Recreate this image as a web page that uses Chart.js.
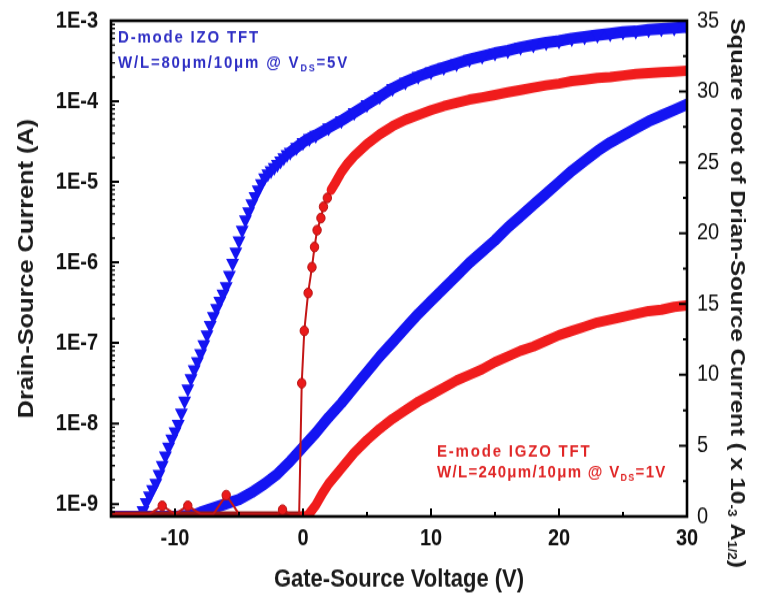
<!DOCTYPE html>
<html>
<head>
<meta charset="utf-8">
<title>IZO / IGZO TFT transfer curves</title>
<script src="https://cdn.jsdelivr.net/npm/chart.js@4.4.0/dist/chart.umd.min.js"></script>
<style>
  html, body { margin: 0; padding: 0; background: #fff; }
</style>
</head>
<body>
<!-- drawn 757x519, shown a little taller like the printed figure -->
<canvas id="tft" width="757" height="519" style="display:block;width:757px;height:597px"></canvas>
<script>
// ---- measured data ----
// D-mode IZO TFT, Ids (A) vs Vgs (V), VDS = 5V
const izoV = [-12.5, -12.25, -12, -11.75, -11.5, -11.25, -11, -10.75, -10.5, -10.25, -10, -9.75,
  -9.5, -9.25, -9, -8.75, -8.5, -8.25, -8, -7.75, -7.5, -7.25, -7, -6.75, -6.5, -6.25, -6, -5.75,
  -5.5, -5.25, -5, -4.75, -4.5, -4.25, -4, -3.75, -3.5, -3.25, -3, -2.75, -2.5, -2.25, -2, -1.75,
  -1.5, -1.25, -1, -0.5, 0, 0.5, 1, 2, 3, 4, 5, 6, 7, 8, 9, 10, 11, 12, 13, 14, 15, 16, 17, 18,
  19, 20, 21, 22, 23, 24, 25, 26, 27, 28, 29, 30];
const izoI = [8.3e-10, 1.05e-9, 1.26e-9, 1.51e-9, 1.82e-9, 2.34e-9, 3.02e-9, 3.98e-9, 5.13e-9,
  6.46e-9, 7.94e-9, 9.77e-9, 1.35e-8, 1.91e-8, 2.69e-8, 3.63e-8, 4.68e-8, 5.89e-8, 7.41e-8,
  9.55e-8, 1.26e-7, 1.66e-7, 2.14e-7, 2.69e-7, 3.31e-7, 4.07e-7, 5.01e-7, 6.92e-7, 9.77e-7,
  1.35e-6, 1.86e-6, 2.51e-6, 3.39e-6, 4.27e-6, 5.37e-6, 6.61e-6, 7.94e-6, 9.55e-6, 1.12e-5,
  1.26e-5, 1.38e-5, 1.51e-5, 1.66e-5, 1.82e-5, 2.0e-5, 2.19e-5, 2.34e-5, 2.69e-5, 3.09e-5,
  3.47e-5, 3.80e-5, 4.68e-5, 5.75e-5, 7.24e-5, 9.12e-5, 1.15e-4, 1.45e-4, 1.74e-4, 2.04e-4,
  2.34e-4, 2.63e-4, 2.95e-4, 3.31e-4, 3.63e-4, 3.98e-4, 4.27e-4, 4.68e-4, 5.01e-4, 5.37e-4,
  5.62e-4, 6.03e-4, 6.31e-4, 6.61e-4, 6.92e-4, 7.24e-4, 7.41e-4, 7.76e-4, 7.94e-4, 8.13e-4, 8.32e-4];

// D-mode IZO, sqrt(Ids) in 1e-3 A^1/2
const izoSqrtV = [-15, -12, -10, -8.5, -8, -7, -6, -5, -4, -3, -2, -1, 0, 1, 2, 3, 4, 5, 6, 7, 8, 9,
  10, 11, 12, 13, 14, 15, 16, 17, 18, 19, 20, 21, 22, 23, 24, 25, 26, 27, 28, 29, 30];
const izoSqrt = [0, 0, 0, 0.1, 0.3, 0.6, 0.9, 1.2, 1.7, 2.3, 3.0, 3.9, 4.9, 5.9, 7.0, 8.0, 9.1, 10.2,
  11.3, 12.3, 13.3, 14.3, 15.2, 16.1, 17.0, 17.9, 18.7, 19.5, 20.4, 21.2, 22.0, 22.8, 23.6, 24.4,
  25.1, 25.8, 26.4, 26.9, 27.4, 27.9, 28.3, 28.7, 29.1];

// E-mode IGZO TFT, Ids (A) vs Vgs (V), VDS = 1V
const igzoV = [-15, -14, -13, -12, -11, -10, -9, -8, -7, -6, -5, -4, -3, -2, -1.6, -1, -0.3,
  -0.1, 0.1, 0.4, 0.7, 0.9, 1.1, 1.4, 1.6, 1.9, 2.2, 2.5, 3, 3.5, 4, 5, 6, 7, 8, 9, 10, 11, 12,
  13, 14, 15, 16, 17, 18, 19, 20, 21, 22, 23, 24, 25, 26, 27, 28, 29, 30];
const igzoI = [7.5e-10, 7.5e-10, 7.5e-10, 7.5e-10, 9.5e-10, 7.5e-10, 9.5e-10, 7.5e-10, 7.5e-10,
  1.29e-9, 7.5e-10, 7.5e-10, 7.5e-10, 7.5e-10, 8.5e-10, 7.5e-10, 7.5e-10,
  3.16e-8, 1.41e-7, 4.17e-7, 8.71e-7, 1.55e-6, 2.51e-6, 3.55e-6, 4.9e-6, 6.31e-6, 7.94e-6,
  9.55e-6, 1.32e-5, 1.70e-5, 2.09e-5, 2.95e-5, 3.89e-5, 4.9e-5, 5.89e-5, 6.76e-5, 7.76e-5,
  8.71e-5, 9.55e-5, 1.05e-4, 1.12e-4, 1.20e-4, 1.29e-4, 1.38e-4, 1.48e-4, 1.58e-4, 1.66e-4,
  1.78e-4, 1.86e-4, 1.95e-4, 2.0e-4, 2.09e-4, 2.19e-4, 2.24e-4, 2.29e-4, 2.34e-4, 2.40e-4];

// E-mode IGZO, sqrt(Ids) in 1e-3 A^1/2
const igzoSqrtV = [-15, -10, -5, 0, 0.3, 0.5, 1, 1.5, 2, 3, 4, 5, 6, 7, 8, 9, 10, 11, 12, 13, 14,
  15, 16, 17, 18, 19, 20, 21, 22, 23, 24, 25, 26, 27, 28, 29, 30];
const igzoSqrt = [0, 0, 0, 0, 0, 0.2, 0.8, 1.6, 2.3, 3.4, 4.5, 5.4, 6.2, 6.9, 7.5, 8.1, 8.6, 9.1,
  9.6, 10.0, 10.4, 10.9, 11.3, 11.7, 12.0, 12.4, 12.8, 13.1, 13.4, 13.7, 13.9, 14.1, 14.3, 14.5,
  14.6, 14.8, 14.9];

// ---- axes ----
const xTicks = [-10, 0, 10, 20, 30];
const xMinorTicks = [-5, 5, 15, 25];
const yTicks = [1e-9, 1e-8, 1e-7, 1e-6, 1e-5, 1e-4, 1e-3];
const y2Ticks = [0, 5, 10, 15, 20, 25, 30, 35];
const y2MinorTicks = [2.5, 7.5, 12.5, 17.5, 22.5, 27.5, 32.5];

const FONT = '"Liberation Sans", Arial, sans-serif';
const BLUE = '#1414f2';
const RED = '#f01c1c';

const pts = (xs, ys) => xs.map((v, i) => ({ x: v, y: ys[i] }));
const isFloor = p => p.y < 8e-10;

// keep the frame where it is: no extra room for half labels at the ends
const noEndPadding = s => { s.paddingTop = 0; s.paddingBottom = 0; };

// tick marks inside the frame + the frame itself
const axisFrame = {
  id: 'axisFrame',
  afterDatasetsDraw(chart) {
    const { ctx, chartArea: a, scales } = chart;
    const { x, y, y2 } = scales;
    ctx.save();
    ctx.strokeStyle = '#000';

    ctx.lineWidth = 2;
    ctx.beginPath();
    xTicks.forEach(v => {
      const px = x.getPixelForValue(v);
      ctx.moveTo(px, a.bottom); ctx.lineTo(px, a.bottom - 7);
    });
    xMinorTicks.forEach(v => {
      const px = x.getPixelForValue(v);
      ctx.moveTo(px, a.bottom); ctx.lineTo(px, a.bottom - 4);
    });
    yTicks.forEach(v => {
      const py = y.getPixelForValue(v);
      ctx.moveTo(a.left, py); ctx.lineTo(a.left + 8, py);
    });
    y2Ticks.forEach(v => {
      const py = y2.getPixelForValue(v);
      ctx.moveTo(a.right, py); ctx.lineTo(a.right - 8, py);
    });
    y2MinorTicks.forEach(v => {
      const py = y2.getPixelForValue(v);
      ctx.moveTo(a.right, py); ctx.lineTo(a.right - 4, py);
    });
    ctx.stroke();

    // log minor ticks 2..9 in every decade
    ctx.lineWidth = 1.4;
    ctx.beginPath();
    for (let d = -10; d <= -4; d++) {
      for (let m = 2; m <= 9; m++) {
        const v = m * Math.pow(10, d);
        if (v < y.min || v > y.max) continue;
        const py = y.getPixelForValue(v);
        ctx.moveTo(a.left, py); ctx.lineTo(a.left + 4, py);
      }
    }
    ctx.stroke();

    ctx.lineWidth = 2.6;
    ctx.strokeRect(a.left, a.top, a.right - a.left, a.bottom - a.top);
    ctx.restore();
  }
};

// text made of pieces, smaller pieces shifted by dy (sub/superscripts)
function drawPieces(ctx, x, y, pieces, weight) {
  let cx = x;
  pieces.forEach(p => {
    ctx.font = `${weight} ${p.size}px ${FONT}`;
    ctx.fillText(p.t, cx, y + (p.dy || 0));
    cx += ctx.measureText(p.t).width;
  });
}

const notes = {
  id: 'notes',
  afterDraw(chart) {
    const { ctx, chartArea: a } = chart;
    ctx.save();
    ctx.textBaseline = 'middle';
    ctx.textAlign = 'left';

    // device labels
    ctx.letterSpacing = '1.8px';
    ctx.fillStyle = '#2e2ec4';
    drawPieces(ctx, a.left + 7, a.top + 15, [{ t: 'D-mode IZO TFT', size: 15 }], 'bold');
    drawPieces(ctx, a.left + 7, a.top + 37, [
      { t: 'W/L=80\u03bcm/10\u03bcm @ V', size: 15 },
      { t: 'DS', size: 9, dy: 5 },
      { t: '=5V', size: 15 }
    ], 'bold');
    ctx.fillStyle = '#e02626';
    drawPieces(ctx, a.left + 326, a.bottom - 56, [{ t: 'E-mode IGZO TFT', size: 15 }], 'bold');
    ctx.letterSpacing = '1.3px';
    drawPieces(ctx, a.left + 326, a.bottom - 38, [
      { t: 'W/L=240\u03bcm/10\u03bcm @ V', size: 15 },
      { t: 'DS', size: 9, dy: 5 },
      { t: '=1V', size: 15 }
    ], 'bold');

    // right axis title, written downwards
    ctx.letterSpacing = '0px';
    ctx.fillStyle = '#1a1a1a';
    ctx.translate(737, 16);
    ctx.rotate(Math.PI / 2);
    drawPieces(ctx, 0, 0, [
      { t: 'Square root of Drian-Source Current ( x 10', size: 21 },
      { t: '-3', size: 12, dy: 6 },
      { t: ' A', size: 21 },
      { t: '1/2', size: 12, dy: 6 },
      { t: ')', size: 21 }
    ], 'bold');
    ctx.restore();
  }
};

new Chart(document.getElementById('tft'), {
  type: 'line',
  data: {
    datasets: [
      {
        label: 'E-mode IGZO Ids',
        data: pts(igzoV, igzoI),
        yAxisID: 'y',
        clip: 0,
        borderColor: RED,
        borderWidth: 2,
        pointStyle: 'circle',
        pointRadius: ctx => (isFloor(ctx.raw) || ctx.raw.x >= 2 ? 0 : 4.2),
        pointBackgroundColor: '#ea1a1a',
        pointBorderColor: '#b51212',
        pointBorderWidth: 1,
        borderJoinStyle: 'round',
        borderCapStyle: 'round',
        segment: {
          borderColor: ctx => (ctx.p0.parsed.x >= 2 ? RED : '#c41616'),
          borderWidth: ctx => (ctx.p0.parsed.x >= 2 ? 9 : 2)
        }
      },
      {
        label: 'E-mode IGZO sqrt(Ids)',
        data: pts(igzoSqrtV, igzoSqrt),
        yAxisID: 'y2',
        clip: 0,
        borderColor: RED,
        borderWidth: 9,
        pointRadius: 0,
        borderJoinStyle: 'round',
        borderCapStyle: 'round',
        segment: {
          // off-state part sits on the axis and reads darker there
          borderColor: ctx => (ctx.p1.parsed.x <= 0 ? '#9a1616' : RED)
        }
      },
      {
        label: 'D-mode IZO Ids',
        data: pts(izoV, izoI),
        yAxisID: 'y',
        clip: 0,
        borderColor: BLUE,
        pointStyle: 'triangle',
        pointRotation: 180,
        pointRadius: 7.5,
        pointBackgroundColor: BLUE,
        pointBorderColor: BLUE,
        pointBorderWidth: 0,
        borderJoinStyle: 'round',
        borderCapStyle: 'round',
        segment: {
          borderColor: ctx => (ctx.p0.parsed.x < -1 ? 'rgba(0,0,0,0)' : BLUE),
          borderWidth: ctx => (ctx.p0.parsed.x < -1 ? 1 : 10)
        }
      },
      {
        label: 'D-mode IZO sqrt(Ids)',
        data: pts(izoSqrtV, izoSqrt),
        yAxisID: 'y2',
        clip: 0,
        borderColor: BLUE,
        borderWidth: 10,
        pointRadius: 0,
        borderJoinStyle: 'round',
        borderCapStyle: 'round'
      }
    ]
  },
  options: {
    responsive: false,
    animation: false,
    layout: { padding: { top: 18, left: 0, right: 0, bottom: 0 } },
    plugins: {
      legend: { display: false },
      tooltip: { enabled: false }
    },
    scales: {
      x: {
        type: 'linear',
        min: -15,
        max: 30,
        afterBuildTicks: s => { s.ticks = xTicks.map(v => ({ value: v })); },
        afterFit: s => { s.height = 70; },
        grid: { display: false, drawTicks: false },
        border: { display: false },
        ticks: {
          color: '#111',
          font: { family: FONT, size: 20, weight: 'bold' },
          padding: 7,
          maxRotation: 0,
          autoSkip: false
        },
        title: {
          display: true,
          text: 'Gate-Source Voltage (V)',
          color: '#1a1a1a',
          font: { family: FONT, size: 22, weight: 'bold' },
          padding: { top: 0, bottom: 2 }
        }
      },
      y: {
        type: 'logarithmic',
        position: 'left',
        min: 7e-10,
        max: 1e-3,
        afterBuildTicks: s => { s.ticks = yTicks.map(v => ({ value: v })); },
        afterFit: s => { s.width = 111; noEndPadding(s); },
        grid: { display: false, drawTicks: false },
        border: { display: false },
        ticks: {
          color: '#111',
          font: { family: FONT, size: 20, weight: 'bold' },
          padding: 13,
          callback: v => '1E' + Math.round(Math.log10(v))
        },
        title: {
          display: true,
          text: 'Drain-Source Current (A)',
          color: '#1a1a1a',
          font: { family: FONT, size: 22, weight: 'bold' },
          padding: { top: 14, bottom: 0 }
        }
      },
      y2: {
        type: 'linear',
        position: 'right',
        min: 0,
        max: 35,
        afterBuildTicks: s => { s.ticks = y2Ticks.map(v => ({ value: v })); },
        afterFit: s => { s.width = 70; noEndPadding(s); },
        grid: { display: false, drawTicks: false },
        border: { display: false },
        ticks: {
          color: '#111',
          font: { family: FONT, size: 20 },
          padding: 10
        }
      }
    }
  },
  plugins: [axisFrame, notes]
});
</script>
</body>
</html>
